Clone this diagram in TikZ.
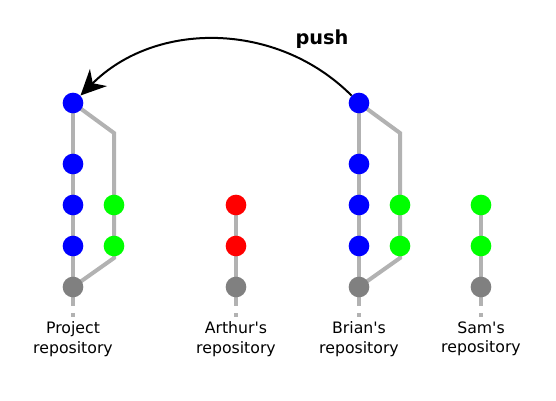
\documentclass[tikz,border=0pt]{standalone}
\usepackage{fontspec}
\setmainfont{DejaVu Sans}
\usetikzlibrary{arrows.meta, backgrounds}

\begin{document}
\begin{tikzpicture}[
                x=0.75pt, y=-0.75pt,
                >={Stealth[length=19pt, width=18pt, inset=6pt]},
                commit/.style={circle, minimum size=15.5pt, inner sep=0pt},
                history/.style={line width=3pt, draw=black!30},
                loose end/.style={history, dash pattern=on 14.25pt off 5.25pt on 3pt},
                repo/.style={align=center, font=\fontsize{11.8}{14.5}\selectfont},
            ]
                \useasboundingbox (0,0) rectangle (556,400);

                % Draw the commits of the project repository
                \foreach \name / \y in {0/103, 1/164, 2/205, 3/246}
                    \node[commit, fill=blue] (P-\name) at (73,\y) {};
                \node[commit, fill=gray] (P-base) at (73,287) {};
                \foreach \name / \y in {1/205, 2/246}
                    \node[commit, fill=green] (PB-\name) at (114,\y) {};

                % Draw the commits of Arthur's repository
                \foreach \name / \y in {1/205, 2/246}
                    \node[commit, fill=red] (A-\name) at (236,\y) {};
                \node[commit, fill=gray] (A-base) at (236,287) {};

                % Draw the commits of Brian's repository
                \foreach \name / \y in {0/103, 1/164, 2/205, 3/246}
                    \node[commit, fill=blue] (B-\name) at (359,\y) {};
                \node[commit, fill=gray] (B-base) at (359,287) {};
                \foreach \name / \y in {1/205, 2/246}
                    \node[commit, fill=green] (BB-\name) at (400,\y) {};

                % Draw the commits of Sam's repository
                \foreach \name / \y in {1/205, 2/246}
                    \node[commit, fill=green] (S-\name) at (481,\y) {};
                \node[commit, fill=gray] (S-base) at (481,287) {};

                % Bends of the side branches and the loose ends
                \coordinate (PB-top) at (114,133);
                \coordinate (PB-bot) at (114,258);
                \coordinate (BB-top) at (400,133);
                \coordinate (BB-bot) at (400,258);
                \foreach \repo / \x in {P/73, A/236, B/359, S/481}
                    \coordinate (\repo-end) at (\x,318);

                % Connect the commits behind the nodes
                \begin{pgfonlayer}{background}
                    \draw[history] (P-0.center) -- (P-base.center);
                    \draw[history] (P-0.center) -- (PB-top) -- (PB-bot) -- (P-base.center);
                    \draw[history] (A-1.center) -- (A-base.center);
                    \draw[history] (B-0.center) -- (B-base.center);
                    \draw[history] (B-0.center) -- (BB-top) -- (BB-bot) -- (B-base.center);
                    \draw[history] (S-1.center) -- (S-base.center);
                    \foreach \repo in {P, A, B, S}
                        \draw[loose end] (\repo-base.center) -- (\repo-end);
                \end{pgfonlayer}

                % Labels under the repositories
                \node[repo] (P-label) at (73,339) {Project\\repository};
                \node[repo] (A-label) at (236,339) {Arthur\textquotesingle s\\repository};
                \node[repo] (B-label) at (359,339) {Brian\textquotesingle s\\repository};
                \node[repo] (S-label) at (481,339) {Sam\textquotesingle s\\repository};

                % The push from Brian to the project
                \draw[->, line width=1.5pt] (B-0.north west) to[out=135, in=45] (P-0.north east);
                \node[font=\bfseries\fontsize{14.5}{17}\selectfont] (push) at (322,39) {push};
            \end{tikzpicture}
\end{document}
